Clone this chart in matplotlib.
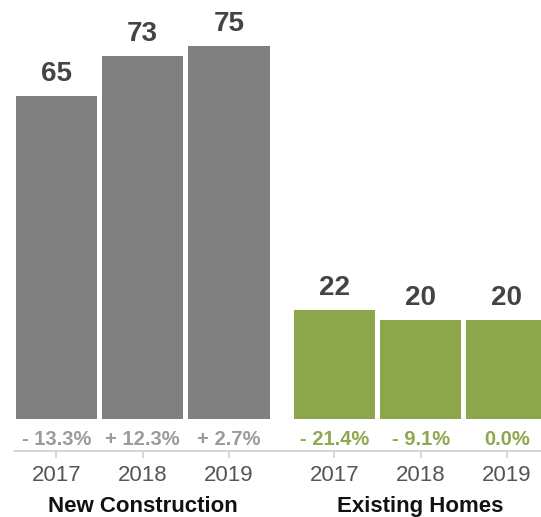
import numpy as np
import matplotlib
matplotlib.use("Agg")
import matplotlib.pyplot as plt

plt.rcParams['font.family'] = ['Liberation Sans', 'DejaVu Sans']

years = ['2017', '2018', '2019']
groups = ['New Construction', 'Existing Homes']
new_construction = [65, 73, 75]
existing_homes = [22, 20, 20]
new_change = ['- 13.3%', '+ 12.3%', '+ 2.7%']
existing_change = ['- 21.4%', '- 9.1%', '0.0%']

gray = '#808080'
green = '#8ca64c'

fig = plt.figure(figsize=(5.41, 5.17), dpi=100)
ax = fig.add_axes([0, 0, 1, 1])

# bar positions: two groups of three with a wider gap between groups
x_new = np.arange(3)
x_ex = np.arange(3) + 3.222
width = 0.944

ax.bar(x_new, new_construction, width=width, color=gray)
ax.bar(x_ex, existing_homes, width=width, color=green)

for xs, vals in [(x_new, new_construction), (x_ex, existing_homes)]:
    for x, v in zip(xs, vals):
        ax.text(x, v + 3.0, str(v), ha='center', va='baseline',
                fontsize=20, fontweight='bold', color='#444444')

for xs, labs, c in [(x_new, new_change, '#9b9b9b'), (x_ex, existing_change, '#8ea84d')]:
    for x, s in zip(xs, labs):
        ax.text(x, -5.2, s, ha='center', va='baseline',
                fontsize=14.5, fontweight='bold', color=c)

# group titles under the middle bar of each group
ax.text(x_new[1], -18.7, groups[0], ha='center', va='baseline',
        fontsize=16, fontweight='bold', color='#111111')
ax.text(x_ex[1], -18.7, groups[1], ha='center', va='baseline',
        fontsize=16, fontweight='bold', color='#111111')

ax.set_xlim(-0.652, 5.617)
ax.set_ylim(-19.7, 84.3)

for s in ['top', 'right', 'left']:
    ax.spines[s].set_visible(False)
ax.spines['bottom'].set_position(('data', -6.44))
ax.spines['bottom'].set_bounds(-0.49, 5.617)
ax.spines['bottom'].set_color('#d0d0d0')
ax.spines['bottom'].set_linewidth(1.2)

ax.set_xticks(np.concatenate([x_new, x_ex]))
ax.set_xticklabels(years + years)
ax.tick_params(axis='x', length=5, width=1.2, color='#d0d0d0',
               labelsize=16, labelcolor='#555555', pad=5)
ax.set_yticks([])

fig.savefig('out.png', dpi=100)
